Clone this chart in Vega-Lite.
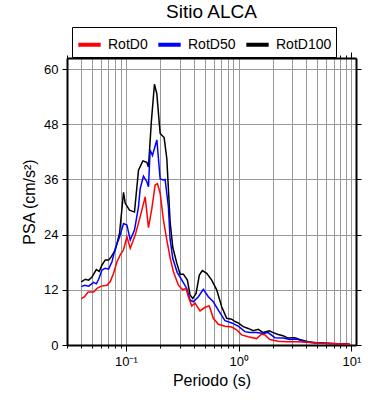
{
  "$schema": "https://vega.github.io/schema/vega-lite/v6.json",
  "autosize": {"type": "none"},
  "padding": {"left": 67, "top": 58, "right": 34, "bottom": 55},
  "width": 289,
  "height": 287,
  "title": {"text": "Sitio ALCA", "fontSize": 19, "fontWeight": "normal", "font": "Liberation Sans", "color": "black", "anchor": "middle", "offset": 5},
  "config": {
    "view": {"stroke": null},
    "axis": {"labelFont": "Liberation Sans", "titleFont": "Liberation Sans", "labelColor": "black", "titleColor": "black", "titleFontWeight": "normal", "domainColor": "black", "domainWidth": 2, "tickColor": "black", "tickWidth": 1, "gridColor": "#999999", "gridWidth": 1, "gridOpacity": 1}
  },
  "data": {"values": [
    {"T":0.0402,"s":"RotD100","v":13.7},{"T":0.0436,"s":"RotD100","v":14.3},{"T":0.0467,"s":"RotD100","v":14.1},{"T":0.05,"s":"RotD100","v":14.8},{"T":0.0546,"s":"RotD100","v":16.4},{"T":0.058,"s":"RotD100","v":16.0},{"T":0.0613,"s":"RotD100","v":17.4},{"T":0.0656,"s":"RotD100","v":18.5},{"T":0.0702,"s":"RotD100","v":18.5},{"T":0.0737,"s":"RotD100","v":19.1},{"T":0.0804,"s":"RotD100","v":20.6},{"T":0.0878,"s":"RotD100","v":24.3},{"T":0.0952,"s":"RotD100","v":33.2},{"T":0.0986,"s":"RotD100","v":30.8},{"T":0.1076,"s":"RotD100","v":29.3},{"T":0.1191,"s":"RotD100","v":28.9},{"T":0.1293,"s":"RotD100","v":38.0},{"T":0.1413,"s":"RotD100","v":40.0},{"T":0.1534,"s":"RotD100","v":39.7},{"T":0.1585,"s":"RotD100","v":38.7},{"T":0.168,"s":"RotD100","v":48.5},{"T":0.1791,"s":"RotD100","v":56.7},{"T":0.188,"s":"RotD100","v":54.6},{"T":0.2012,"s":"RotD100","v":46.0},{"T":0.2182,"s":"RotD100","v":45.1},{"T":0.2306,"s":"RotD100","v":40.5},{"T":0.2466,"s":"RotD100","v":26.8},{"T":0.2606,"s":"RotD100","v":21.2},{"T":0.2827,"s":"RotD100","v":17.8},{"T":0.3024,"s":"RotD100","v":15.4},{"T":0.3234,"s":"RotD100","v":15.4},{"T":0.3509,"s":"RotD100","v":14.1},{"T":0.3707,"s":"RotD100","v":10.9},{"T":0.3917,"s":"RotD100","v":10.1},{"T":0.419,"s":"RotD100","v":11.2},{"T":0.4481,"s":"RotD100","v":15.2},{"T":0.4764,"s":"RotD100","v":16.2},{"T":0.5212,"s":"RotD100","v":15.6},{"T":0.5769,"s":"RotD100","v":14.1},{"T":0.6388,"s":"RotD100","v":12.0},{"T":0.7073,"s":"RotD100","v":8.3},{"T":0.7832,"s":"RotD100","v":5.8},{"T":0.8672,"s":"RotD100","v":5.6},{"T":0.9276,"s":"RotD100","v":5.1},{"T":0.9919,"s":"RotD100","v":4.8},{"T":1.098,"s":"RotD100","v":4.0},{"T":1.216,"s":"RotD100","v":3.6},{"T":1.346,"s":"RotD100","v":3.1},{"T":1.491,"s":"RotD100","v":3.4},{"T":1.651,"s":"RotD100","v":2.7},{"T":1.866,"s":"RotD100","v":3.1},{"T":2.024,"s":"RotD100","v":2.7},{"T":2.241,"s":"RotD100","v":2.3},{"T":2.481,"s":"RotD100","v":2.0},{"T":2.748,"s":"RotD100","v":1.5},{"T":3.15,"s":"RotD100","v":1.6},{"T":3.487,"s":"RotD100","v":1.2},{"T":4.129,"s":"RotD100","v":0.7},{"T":4.901,"s":"RotD100","v":0.5},{"T":6.007,"s":"RotD100","v":0.4},{"T":8.43,"s":"RotD100","v":0.2},{"T":9.66,"s":"RotD100","v":0.15},
    {"T":0.0402,"s":"RotD50","v":12.7},{"T":0.043,"s":"RotD50","v":13.0},{"T":0.0467,"s":"RotD50","v":12.8},{"T":0.0517,"s":"RotD50","v":13.6},{"T":0.0546,"s":"RotD50","v":13.3},{"T":0.0573,"s":"RotD50","v":14.3},{"T":0.0613,"s":"RotD50","v":16.3},{"T":0.0656,"s":"RotD50","v":16.7},{"T":0.0702,"s":"RotD50","v":16.5},{"T":0.0752,"s":"RotD50","v":18.1},{"T":0.0804,"s":"RotD50","v":21.0},{"T":0.0878,"s":"RotD50","v":23.5},{"T":0.0952,"s":"RotD50","v":26.4},{"T":0.102,"s":"RotD50","v":26.1},{"T":0.1092,"s":"RotD50","v":22.8},{"T":0.1191,"s":"RotD50","v":25.0},{"T":0.1293,"s":"RotD50","v":30.1},{"T":0.1338,"s":"RotD50","v":34.0},{"T":0.1431,"s":"RotD50","v":36.7},{"T":0.1534,"s":"RotD50","v":35.5},{"T":0.1585,"s":"RotD50","v":34.4},{"T":0.1641,"s":"RotD50","v":42.4},{"T":0.172,"s":"RotD50","v":41.2},{"T":0.1881,"s":"RotD50","v":44.6},{"T":0.2012,"s":"RotD50","v":36.1},{"T":0.2151,"s":"RotD50","v":35.9},{"T":0.2227,"s":"RotD50","v":36.0},{"T":0.2382,"s":"RotD50","v":30.0},{"T":0.2466,"s":"RotD50","v":23.0},{"T":0.2606,"s":"RotD50","v":18.8},{"T":0.285,"s":"RotD50","v":15.8},{"T":0.3195,"s":"RotD50","v":13.8},{"T":0.3466,"s":"RotD50","v":12.3},{"T":0.3707,"s":"RotD50","v":9.8},{"T":0.3965,"s":"RotD50","v":9.4},{"T":0.4391,"s":"RotD50","v":10.5},{"T":0.4862,"s":"RotD50","v":12.1},{"T":0.5383,"s":"RotD50","v":10.5},{"T":0.5961,"s":"RotD50","v":9.4},{"T":0.66,"s":"RotD50","v":7.6},{"T":0.7565,"s":"RotD50","v":5.3},{"T":0.8672,"s":"RotD50","v":4.8},{"T":0.9919,"s":"RotD50","v":4.1},{"T":1.137,"s":"RotD50","v":2.9},{"T":1.259,"s":"RotD50","v":2.7},{"T":1.443,"s":"RotD50","v":2.7},{"T":1.651,"s":"RotD50","v":2.5},{"T":1.828,"s":"RotD50","v":2.7},{"T":2.095,"s":"RotD50","v":1.6},{"T":2.481,"s":"RotD50","v":1.5},{"T":2.845,"s":"RotD50","v":1.2},{"T":3.261,"s":"RotD50","v":1.3},{"T":3.861,"s":"RotD50","v":0.7},{"T":4.574,"s":"RotD50","v":0.5},{"T":5.607,"s":"RotD50","v":0.4},{"T":8.43,"s":"RotD50","v":0.2},{"T":9.66,"s":"RotD50","v":0.15},
    {"T":0.0402,"s":"RotD0","v":10.1},{"T":0.043,"s":"RotD0","v":10.5},{"T":0.0461,"s":"RotD0","v":11.5},{"T":0.0517,"s":"RotD0","v":11.5},{"T":0.0554,"s":"RotD0","v":12.3},{"T":0.0604,"s":"RotD0","v":12.8},{"T":0.0679,"s":"RotD0","v":13.0},{"T":0.0726,"s":"RotD0","v":13.8},{"T":0.0777,"s":"RotD0","v":15.6},{"T":0.0833,"s":"RotD0","v":18.1},{"T":0.089,"s":"RotD0","v":19.6},{"T":0.0952,"s":"RotD0","v":20.7},{"T":0.102,"s":"RotD0","v":23.5},{"T":0.1092,"s":"RotD0","v":21.0},{"T":0.1209,"s":"RotD0","v":23.9},{"T":0.1338,"s":"RotD0","v":27.9},{"T":0.1482,"s":"RotD0","v":32.2},{"T":0.1585,"s":"RotD0","v":25.5},{"T":0.1699,"s":"RotD0","v":29.7},{"T":0.1817,"s":"RotD0","v":34.8},{"T":0.1904,"s":"RotD0","v":35.1},{"T":0.2012,"s":"RotD0","v":33.0},{"T":0.2151,"s":"RotD0","v":27.2},{"T":0.2306,"s":"RotD0","v":22.8},{"T":0.2466,"s":"RotD0","v":19.0},{"T":0.2638,"s":"RotD0","v":15.9},{"T":0.2921,"s":"RotD0","v":13.0},{"T":0.3195,"s":"RotD0","v":12.0},{"T":0.3417,"s":"RotD0","v":12.3},{"T":0.3581,"s":"RotD0","v":10.5},{"T":0.3838,"s":"RotD0","v":8.5},{"T":0.4106,"s":"RotD0","v":9.1},{"T":0.4546,"s":"RotD0","v":7.4},{"T":0.5034,"s":"RotD0","v":8.2},{"T":0.5494,"s":"RotD0","v":8.5},{"T":0.5961,"s":"RotD0","v":5.8},{"T":0.66,"s":"RotD0","v":4.5},{"T":0.7565,"s":"RotD0","v":4.1},{"T":0.8672,"s":"RotD0","v":3.9},{"T":0.9601,"s":"RotD0","v":3.3},{"T":1.063,"s":"RotD0","v":2.2},{"T":1.216,"s":"RotD0","v":1.8},{"T":1.443,"s":"RotD0","v":1.4},{"T":1.6,"s":"RotD0","v":2.4},{"T":1.71,"s":"RotD0","v":2.2},{"T":1.892,"s":"RotD0","v":1.2},{"T":2.241,"s":"RotD0","v":0.8},{"T":2.66,"s":"RotD0","v":0.7},{"T":3.26,"s":"RotD0","v":0.7},{"T":4.0,"s":"RotD0","v":0.6},{"T":5.24,"s":"RotD0","v":0.4},{"T":8.43,"s":"RotD0","v":0.2},{"T":9.66,"s":"RotD0","v":0.1}
  ]},
  "layer": [
    {
      "mark": {"type": "line", "strokeWidth": 1.5},
      "encoding": {
        "x": {"field": "T", "type": "quantitative",
          "scale": {"type": "log", "domain": [0.03, 11], "nice": false, "zero": false},
          "axis": {"orient": "bottom", "title": "Periodo (s)", "titleFontSize": 16, "titlePadding": 4, "labelFontSize": 13, "labelOverlap": false, "labelFlush": false, "labelPadding": 4, "grid": true,
            "values": [0.03,0.04,0.05,0.06,0.07,0.08,0.09,0.1,0.2,0.3,0.4,0.5,0.6,0.7,0.8,0.9,1,2,3,4,5,6,7,8,9,10],
            "labelExpr": "datum.value == 0.1 ? '10⁻¹' : datum.value == 1 ? '10⁰' : datum.value == 10 ? '10¹' : ''",
            "tickSize": {"condition": {"test": "datum.value == 0.1 || datum.value == 1 || datum.value == 10", "value": 6}, "value": 3}}},
        "y": {"field": "v", "type": "quantitative",
          "scale": {"domain": [0, 62.4], "nice": false},
          "axis": {"orient": "left", "title": "PSA (cm/s²)", "titleFontSize": 16, "titlePadding": 6, "labelFontSize": 13, "labelPadding": 4, "tickSize": 5, "grid": true, "values": [0,12,24,36,48,60]}},
        "color": {"field": "s", "type": "nominal",
          "scale": {"domain": ["RotD0", "RotD50", "RotD100"], "range": ["#ff0000", "#0000ff", "#000000"]},
          "legend": {"title": null, "orient": "none", "legendX": 5, "legendY": -31, "direction": "horizontal", "symbolType": "stroke", "symbolSize": 500, "symbolStrokeWidth": 4, "labelFontSize": 14, "labelFont": "Liberation Sans", "labelColor": "black", "labelOffset": 5, "columnPadding": 2, "padding": 4, "strokeColor": "black", "fillColor": "white"}}
      }
    },
    {
      "mark": {"type": "point", "opacity": 0},
      "encoding": {
        "x": {"field": "T", "type": "quantitative",
          "axis": {"orient": "top", "title": null, "labels": false, "grid": false,
            "values": [0.03,0.04,0.05,0.06,0.07,0.08,0.09,0.1,0.2,0.3,0.4,0.5,0.6,0.7,0.8,0.9,1,2,3,4,5,6,7,8,9,10],
            "tickSize": {"condition": {"test": "datum.value == 0.1 || datum.value == 1 || datum.value == 10", "value": 6}, "value": 3}}},
        "y": {"field": "v", "type": "quantitative",
          "axis": {"orient": "right", "title": null, "labels": false, "grid": false, "tickSize": 5, "values": [0,12,24,36,48,60]}}
      }
    }
  ],
  "resolve": {"axis": {"x": "independent", "y": "independent"}}
}
